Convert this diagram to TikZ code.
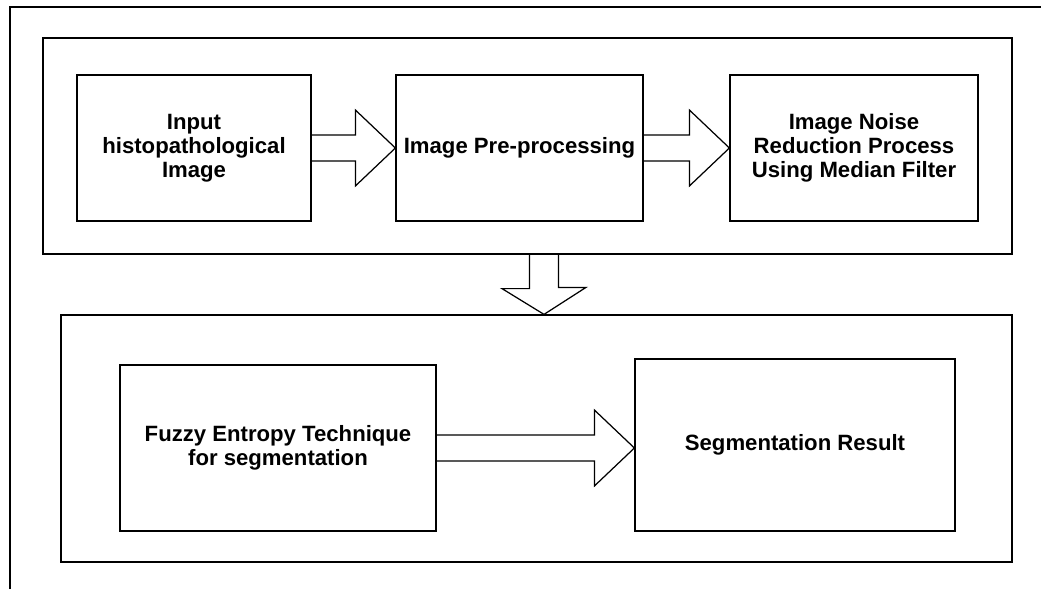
\documentclass[tikz,border=0pt]{standalone}
\usepackage{fontspec}
\setmainfont{Liberation Sans}
\usetikzlibrary{positioning,calc}

\begin{document}
\begin{tikzpicture}[font=\fontsize{12.6}{13.6}\selectfont\bfseries,
  line width=0.7pt,
  stage/.style={draw,inner sep=0pt},
  box/.style={draw,align=center,inner sep=0pt,minimum height=2.92cm},
  blk/.style={draw,line join=miter}]

\useasboundingbox (0,0) rectangle (20.82,-11.78);
\draw (0.2,-11.78) -- (0.2,-0.14) -- (20.82,-0.14);

% the two stages
\node[stage,minimum width=19.38cm,minimum height=4.32cm] (stageA) at (10.55,-2.92) {};
\node[stage,minimum width=19.02cm,minimum height=4.94cm] (stageB) at (10.73,-8.77) {};

\node[box,minimum width=4.68cm] (inp)   at (3.88,-2.96)  {Input\\histopathological\\Image};
\node[box,minimum width=4.94cm] (pre)   at (10.39,-2.96) {Image Pre-processing};
\node[box,minimum width=4.96cm] (noise) at (17.08,-2.96) {Image Noise\\Reduction Process\\Using Median Filter};
\node[box,minimum width=6.32cm,minimum height=3.32cm] (fuzzy) at (5.56,-8.96) {Fuzzy Entropy Technique\\for segmentation};
\node[box,minimum width=6.4cm,minimum height=3.44cm]  (seg)   at (15.9,-8.9)  {Segmentation Result};

% block arrows between boxes
\foreach \a/\b in {inp/pre,pre/noise,fuzzy/seg} {
  \coordinate (tip) at (\b.west |- \a.east);
  \draw[blk] ($(\a.east)+(0,0.26)$) -- ($(tip)+(-0.8,0.26)$) -- ++(0,0.5) -- (tip)
    -- ++(-0.8,-0.76) -- ++(0,0.5) -- ($(\a.east)+(0,-0.26)$);
}

% stage A into stage B
\coordinate (dn) at (10.88,-5.7);
\draw[blk] ($(dn |- stageA.south)+(-0.29,0)$) -- ++(0,-0.68) -- ++(-0.55,0) -- (dn |- stageB.north)
  -- ++(0.84,0.54) -- ++(-0.55,0) -- ++(0,0.68);
\end{tikzpicture}
\end{document}
